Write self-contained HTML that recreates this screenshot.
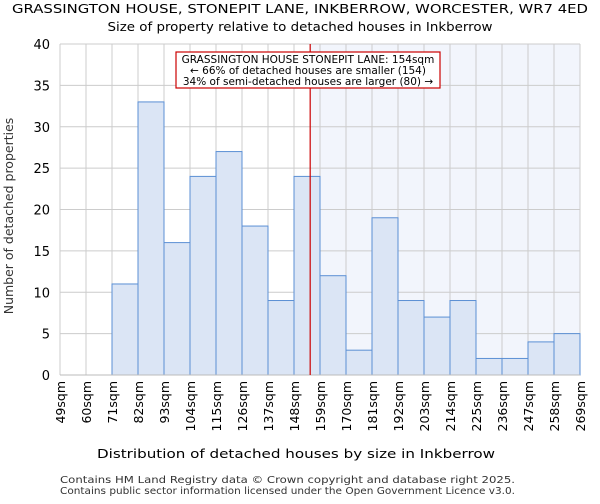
<!DOCTYPE html>
<html><head><style>
body{margin:0;background:#fff;font-family:"DejaVu Sans","Liberation Sans",sans-serif;}
</style></head><body>
<svg width="600" height="500" xmlns="http://www.w3.org/2000/svg" font-family="DejaVu Sans, Liberation Sans, sans-serif">
<text x="300" y="13" text-anchor="middle" font-size="12" textLength="576" lengthAdjust="spacingAndGlyphs">GRASSINGTON HOUSE, STONEPIT LANE, INKBERROW, WORCESTER, WR7 4ED</text>
<text x="300" y="31" text-anchor="middle" font-size="12.5" textLength="385" lengthAdjust="spacingAndGlyphs">Size of property relative to detached houses in Inkberrow</text>
<g id="plot"></g>
<text x="296" y="458" text-anchor="middle" font-size="12.5" textLength="398" lengthAdjust="spacingAndGlyphs">Distribution of detached houses by size in Inkberrow</text>
<text transform="translate(13,216) rotate(-90)" text-anchor="middle" font-size="12.5" fill="#333">Number of detached properties</text>
<text x="60" y="483" font-size="10" textLength="455" lengthAdjust="spacingAndGlyphs" fill="#333">Contains HM Land Registry data © Crown copyright and database right 2025.</text>
<text x="60" y="494" font-size="10" textLength="455" lengthAdjust="spacingAndGlyphs" fill="#333">Contains public sector information licensed under the Open Government Licence v3.0.</text>
</svg>
<script>
const binEdges=[49,60,71,82,93,104,115,126,137,148,159,170,181,192,203,214,225,236,247,258,269];
const counts=[0,0,11,33,16,24,27,18,9,24,12,3,19,9,7,9,2,2,4,5];
const yTicks=[0,5,10,15,20,25,30,35,40];
const propertySize=154;
const NS="http://www.w3.org/2000/svg";
const L=60,R=580,T=44,B=375;
const xs=v=>L+(v-binEdges[0])/(binEdges[binEdges.length-1]-binEdges[0])*(R-L);
const ys=v=>B-v/40*(B-T);
const g=document.getElementById('plot');
function mk(t,a){const e=document.createElementNS(NS,t);for(const k in a)e.setAttribute(k,a[k]);g.appendChild(e);return e;}
const px=xs(propertySize)+2;
let e=mk('rect',{x:px,y:T,width:R-px,height:B-T,fill:'#f2f5fc'});


yTicks.forEach(v=>{
 let l=mk('line',{x1:L,x2:R,y1:ys(v),y2:ys(v),stroke:'#ccc'});
 
 
 let t=mk('text',{x:L-10,y:ys(v)+5,'text-anchor':'end','font-size':'13'});t.textContent=v;
 
 
});
binEdges.forEach(v=>{
 let l=mk('line',{x1:xs(v),x2:xs(v),y1:T,y2:B,stroke:'#ccc'});
 
 
 let t=mk('text',{transform:`translate(${xs(v)+5},${B+6}) rotate(-90)`,'text-anchor':'end','font-size':'12.5'});t.textContent=v+'sqm';
 
 
});
counts.forEach((c,i)=>{
 if(c<=0)return;
 let r=mk('rect',{x:xs(binEdges[i]),y:ys(c),width:xs(binEdges[i+1])-xs(binEdges[i]),height:ys(0)-ys(c),fill:'#dbe5f5',stroke:'#5b8fd4','stroke-width':1});
 
 
});
e=mk('line',{x1:L,x2:R,y1:B,y2:B,stroke:'#bbb'});


e=mk('line',{x1:px,x2:px,y1:T,y2:B,stroke:'#cc0000','stroke-width':1.2});


e=mk('rect',{x:176,y:52,width:264,height:36,fill:'#fff',stroke:'#cc0000','stroke-width':1.2});


['GRASSINGTON HOUSE STONEPIT LANE: 154sqm','← 66% of detached houses are smaller (154)','34% of semi-detached houses are larger (80) →'].forEach((s,i)=>{
 let t=mk('text',{x:308,y:63+i*11,'text-anchor':'middle','font-size':'10.5'});t.textContent=s;
 
 
});
</script>
</body></html>
